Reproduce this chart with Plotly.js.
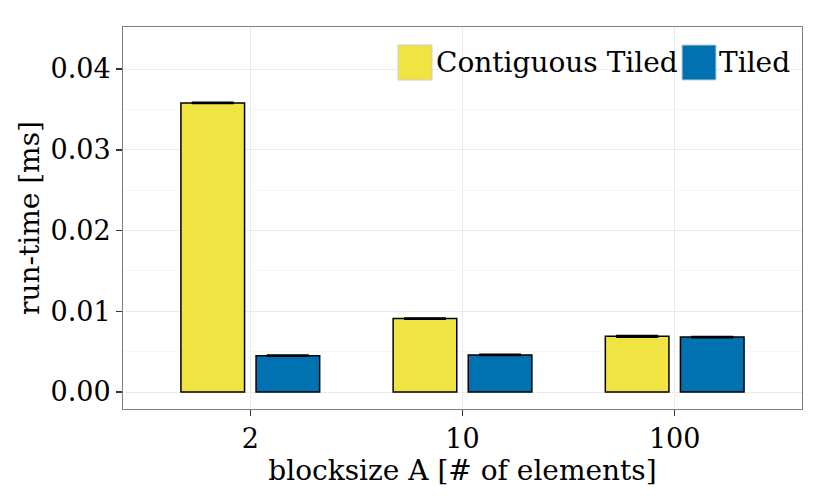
<!DOCTYPE html>
<html>
<head>
<meta charset="utf-8">
<script src="https://cdn.plot.ly/plotly-3.0.1.min.js"></script>
<style>html,body{margin:0;padding:0;background:#fff;}#chart{width:830px;height:498px;}</style>
</head>
<body>
<div id="chart"></div>
<script>
const categories = ["2", "10", "100"];
const seriesNames = ["Contiguous Tiled", "Tiled"];
const contiguousTiled = [0.0358, 0.0091, 0.0069];
const contiguousTiledErr = [0.00002, 0.00001, 0.00004];
const tiled = [0.0045, 0.0046, 0.0068];
const tiledErr = [0.00002, 0.00001, 0.00003];
const yTicks = [0, 0.01, 0.02, 0.03, 0.04];
const colors = ["#F0E442", "#0072B2"];

const FONT = "DejaVu Serif, serif";
const FS = 27;
const FT = 28;

function barTrace(name, y, err, color) {
  return {
    type: "bar", name: name, x: categories, y: y,
    marker: {color: color, line: {color: "#000", width: 1.5}},
    error_y: {type: "data", array: err, visible: true, color: "#000", thickness: 2.5, width: 21},
    showlegend: false
  };
}

const data = [
  barTrace(seriesNames[0], contiguousTiled, contiguousTiledErr, colors[0]),
  barTrace(seriesNames[1], tiled, tiledErr, colors[1])
];

const layout = {
  width: 830, height: 498,
  margin: {l: 123, r: 28, t: 27, b: 89},
  paper_bgcolor: "#fff", plot_bgcolor: "#fff",
  font: {family: FONT, color: "#000", size: FS},
  barmode: "group", bargap: 0.292, bargroupgap: 0.153,
  xaxis: {
    type: "category", range: [-0.6, 2.6],
    showgrid: true, gridcolor: "#ebebeb", gridwidth: 1,
    ticks: "outside", ticklen: 6, tickcolor: "#333", tickwidth: 1.5,
    showline: true, linecolor: "#7f7f7f", linewidth: 1, mirror: true,
    tickfont: {family: FONT, size: FS, color: "#000"},
    title: {text: "blocksize A [# of elements]", font: {family: FONT, size: FT, color: "#000"}, standoff: 1},
    zeroline: false, automargin: false
  },
  yaxis: {
    range: [-0.0021, 0.0452],
    tickvals: yTicks, tickformat: ".2f",
    showgrid: true, gridcolor: "#ebebeb", gridwidth: 1,
    minor: {dtick: 0.005, tick0: 0.005, showgrid: true, gridcolor: "#f7f7f7", ticks: ""},
    ticks: "outside", ticklen: 6, tickcolor: "#333", tickwidth: 1.5,
    showline: true, linecolor: "#7f7f7f", linewidth: 1, mirror: true,
    tickfont: {family: FONT, size: FS, color: "#000"},
    title: {text: "run-time [ms]", font: {family: FONT, size: FT, color: "#000"}, standoff: 2},
    zeroline: false, automargin: false
  },
  shapes: [
    {type: "rect", xref: "paper", yref: "paper", x0: (398-123)/679, x1: (432-123)/679, y0: (409-80)/382, y1: (409-45)/382,
     fillcolor: colors[0], line: {color: "#cccccc", width: 1}},
    {type: "rect", xref: "paper", yref: "paper", x0: (682-123)/679, x1: (716-123)/679, y0: (409-80)/382, y1: (409-45)/382,
     fillcolor: colors[1], line: {color: "#cccccc", width: 1}}
  ],
  annotations: [
    {xref: "paper", yref: "paper", x: (434-123)/679, y: (409-62.5)/382, xanchor: "left", yanchor: "middle",
     text: seriesNames[0], showarrow: false, font: {family: FONT, size: FT, color: "#000"}},
    {xref: "paper", yref: "paper", x: (717-123)/679, y: (409-62.5)/382, xanchor: "left", yanchor: "middle",
     text: seriesNames[1], showarrow: false, font: {family: FONT, size: FT, color: "#000"}}
  ]
};

Plotly.newPlot("chart", data, layout, {displayModeBar: false, staticPlot: true});
</script>
</body>
</html>
